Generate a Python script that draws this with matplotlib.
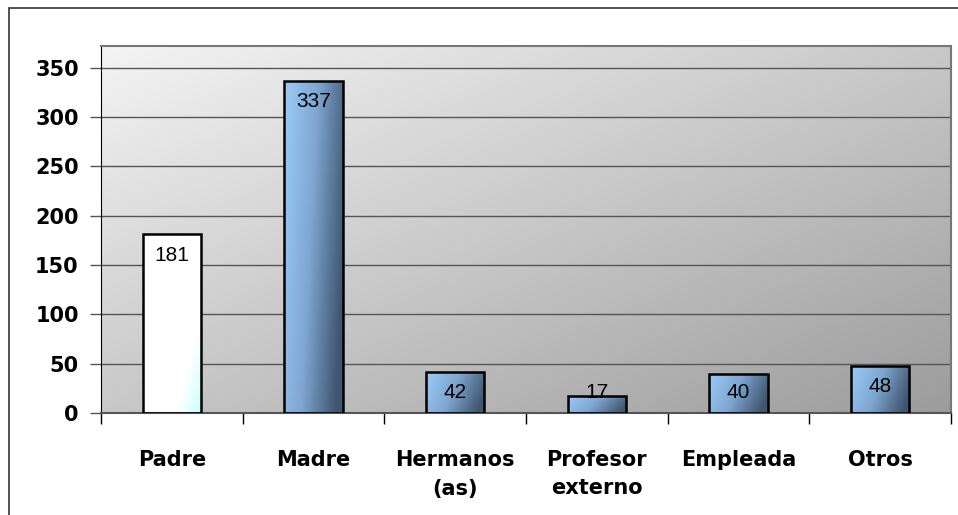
import numpy as np
import matplotlib.pyplot as plt
from matplotlib.colors import LinearSegmentedColormap
from matplotlib.patches import Rectangle

categories = ["Padre", "Madre", "Hermanos\n(as)", "Profesor\nexterno", "Empleada", "Otros"]
values = [181, 337, 42, 17, 40, 48]
y_ticks = [0, 50, 100, 150, 200, 250, 300, 350]

W, H = 958, 515
fig = plt.figure(figsize=(W / 100, H / 100), dpi=100)

# outer chart frame (right/bottom edges fall outside the image)
fig.patches.append(Rectangle((9 / W, -0.1), 1.2, 1 - 8 / H + 0.1,
                             transform=fig.transFigure, fill=False,
                             edgecolor="#333333", linewidth=1.2))

left, right, top, bottom = 101, 951, 46, 413
ax = fig.add_axes([left / W, 1 - bottom / H, (right - left) / W, (bottom - top) / H])

x = np.arange(len(categories))
ax.set_xlim(-0.5, len(categories) - 0.5)
ax.set_ylim(0, 372)

# plot area diagonal gradient
gx, gy = np.meshgrid(np.linspace(0, 1, 200), np.linspace(0, 1, 200))
diag = (gx + gy) / 2
bg_cmap = LinearSegmentedColormap.from_list("bg", ["#f4f4f4", "#9c9c9c"])
ax.imshow(diag, cmap=bg_cmap, extent=[0, 1, 0, 1], transform=ax.transAxes,
          aspect="auto", zorder=0, origin="upper")

for v in y_ticks[1:]:
    ax.axhline(v, color="#555555", linewidth=1, zorder=1)

blue_cmap = LinearSegmentedColormap.from_list("bar", ["#9ccbf8", "#7ea6d0", "#3f5670"])
white_cmap = LinearSegmentedColormap.from_list("wbar", ["#ffffff", "#ffffff", "#ffffff", "#c8ffff"])

bw = 0.41
lab_off = 21  # label centre sits this far below the bar top (data units)
bars = ax.bar(x, values, width=bw, facecolor="none", edgecolor="black",
              linewidth=1.8, zorder=3)
for i, (b, v) in enumerate(zip(bars, values)):
    cm = white_cmap if i == 0 else blue_cmap
    bx, by = np.meshgrid(np.linspace(0, 1, 60), np.linspace(0, 1, 100))
    if i == 0:
        g = np.clip((bx * 0.8 + by * 0.6) - 0.4, 0, 1)
    else:
        g = bx * 0.85 + by * 0.25
    im = ax.imshow(g, cmap=cm, extent=[b.get_x(), b.get_x() + bw, 0, v],
                   aspect="auto", zorder=2, origin="upper", vmin=0, vmax=1)
    im.set_clip_path(b)
    ax.text(b.get_x() + bw / 2, max(v - lab_off, lab_off), str(v),
            ha="center", va="center", fontsize=15, family="Liberation Sans",
            color="black", zorder=4)

ax.set_yticks(y_ticks)
ax.set_yticklabels([str(t) for t in y_ticks], fontsize=15, fontweight="bold")
ax.set_xticks(np.arange(len(categories) + 1) - 0.5, minor=True)
ax.set_xticks(x)
ax.set_xticklabels(categories, fontsize=15, fontweight="bold", linespacing=1.5)
ax.tick_params(axis="x", which="major", length=0, pad=27)
ax.tick_params(axis="x", which="minor", length=8, color="black", width=1)
ax.tick_params(axis="y", length=8, color="#555555", width=1, pad=8)

for s in ["top", "right"]:
    ax.spines[s].set_color("#777777")
    ax.spines[s].set_linewidth(1.5)
ax.spines["left"].set_color("black")
ax.spines["bottom"].set_color("#555555")
ax.spines["bottom"].set_linewidth(1.5)

fig.savefig("out.png", dpi=100)
